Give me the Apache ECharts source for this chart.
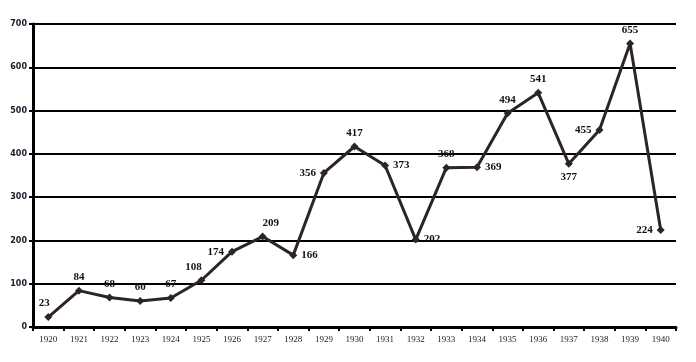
<!DOCTYPE html>
<html><head><meta charset="utf-8">
<script src="https://cdn.jsdelivr.net/npm/echarts@6/dist/echarts.min.js"></script>
<style>html,body{margin:0;padding:0;background:#fff}#c{width:696px;height:362px}</style>
</head><body><div id="c"></div>
<script>
var years = ['1920','1921','1922','1923','1924','1925','1926','1927','1928','1929','1930','1931','1932','1933','1934','1935','1936','1937','1938','1939','1940'];
var values = [23,84,68,60,67,108,174,209,166,356,417,373,202,368,369,494,541,377,455,655,224];
var labelPos = ['top','top','top','top','top','top','left','top','right','left','top','right','right','top','right','top','top','bottom','left','top','left'];
var labelOffsets = [[-4,0],[0,0],[0,0],[0,0],[0,0],[-8,0],[0,0],[8,0],[0,0],[0,0],[0,0],[0,0],[0,0],[0,0],[0,0],[0,0],[0,0],[0,0],[0,0],[0,0],[0,0]];
var yTicks = [0,100,200,300,400,500,600,700];

var chart = echarts.init(document.getElementById('c'));
var data = values.map(function(v,i){
  return {value:v, label:{position:labelPos[i], offset:labelOffsets[i]}};
});
chart.setOption({
  animation:false,
  grid:{left:33,right:20,top:24,bottom:35},
  xAxis:{type:'category',data:years,boundaryGap:true,
    axisLine:{lineStyle:{color:'#000',width:3}},
    axisTick:{show:true,length:4,lineStyle:{color:'#000',width:2}},
    axisLabel:{color:'#222',fontFamily:'Liberation Serif',fontSize:9,margin:8}},
  yAxis:{type:'value',min:0,max:700,interval:100,
    axisLine:{show:true,lineStyle:{color:'#000',width:3}},
    axisTick:{show:true,length:4,lineStyle:{color:'#000',width:2}},
    splitLine:{lineStyle:{color:'#000',width:2}},
    axisLabel:{color:'#1a1a2a',fontFamily:'DejaVu Sans',fontSize:8,fontWeight:'bold',margin:6}},
  series:[{type:'line',data:data,
    lineStyle:{color:'#2d2424',width:3},
    itemStyle:{color:'#2d2424'},
    symbol:'diamond',symbolSize:8,
    label:{show:true,fontFamily:'Liberation Serif',fontWeight:'bold',fontSize:11,color:'#111',distance:4}
  }]
});
</script></body></html>
